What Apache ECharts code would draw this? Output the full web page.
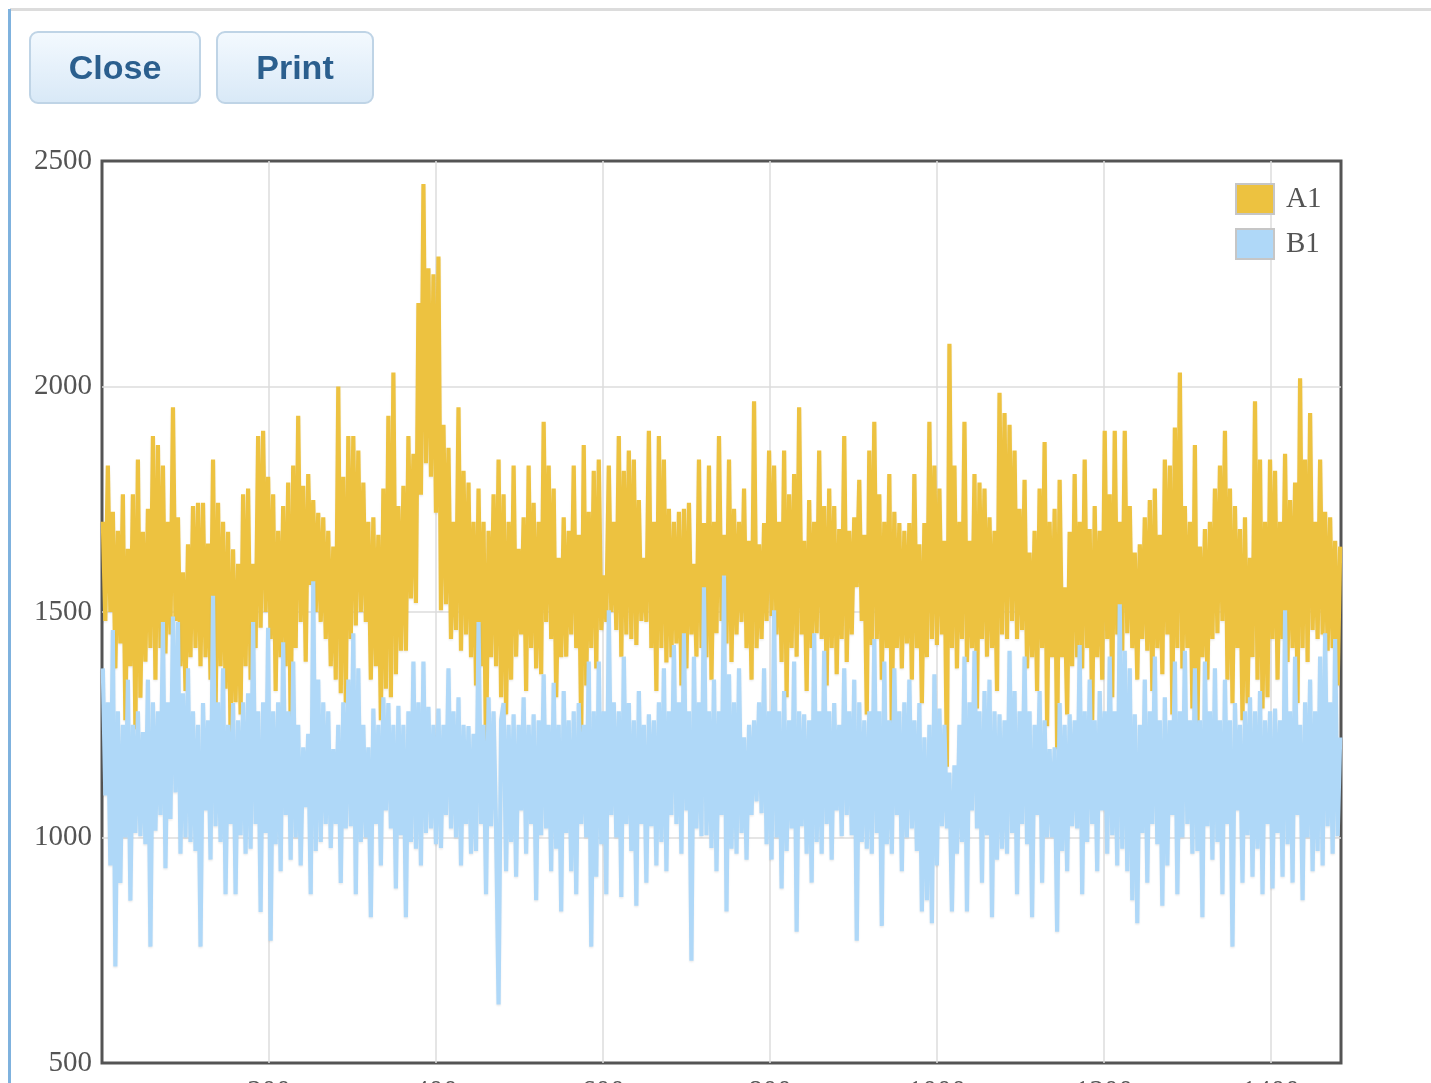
<!DOCTYPE html>
<html>
<head>
<meta charset="utf-8">
<title>A1 / B1</title>
<script src="https://cdn.jsdelivr.net/npm/echarts@6/dist/echarts.min.js"></script>
<style>
  html, body { margin: 0; padding: 0; background: #fff; width: 1431px; height: 1083px; overflow: hidden; }
  .frame-top { position: absolute; left: 10px; top: 8px; width: 1421px; height: 3px; background: #dcdcdc; }
  .frame-left { position: absolute; left: 8px; top: 9px; width: 3px; height: 1080px; background: #7fb2de; }
  .btn {
    position: absolute; top: 31px; height: 73px; box-sizing: border-box; z-index: 2;
    border: 2px solid #bfd4e6; border-radius: 9px;
    background: linear-gradient(#f3f9fe, #e6f1fb 50%, #d9e9f7);
    color: #2b5f8e; font: bold 34px "Liberation Sans", Arial, sans-serif;
    display: flex; align-items: center; justify-content: center;
  }
  #chart { position: absolute; left: 0; top: 0; width: 1431px; height: 1110px; }
</style>
</head>
<body>
<div class="frame-top"></div>
<div class="frame-left"></div>
<div class="btn" style="left:29px;width:172px;">Close</div>
<div class="btn" style="left:216px;width:158px;">Print</div>
<div id="chart"></div>
<script>
// Sample positions: first x and spacing between samples
const xStart = 1;
const xStep = 3;

// Series A1 values
const seriesA1 = [
  1700,1480,1825,1500,1722,1375,1680,1430,1761,1260,
  1640,1380,1761,1240,1838,1310,1678,1390,1729,1420,
  1890,1350,1870,1420,1825,1408,1700,1450,1954,1480,
  1710,1380,1588,1325,1650,1400,1735,1420,1742,1380,
  1742,1400,1652,1350,1838,1273,1742,1380,1700,1330,
  1678,1222,1639,1300,1607,1273,1761,1380,1774,1350,
  1607,1420,1890,1465,1902,1500,1800,1440,1761,1325,
  1680,1400,1735,1380,1787,1240,1825,1420,1935,1478,
  1780,1390,1806,1560,1748,1500,1720,1478,1710,1440,
  1680,1380,1645,1350,2000,1320,1800,1298,1890,1440,
  1890,1470,1858,1500,1787,1478,1700,1350,1710,1380,
  1671,1260,1774,1330,1935,1311,2031,1362,1735,1414,
  1780,1414,1890,1530,1851,1520,2185,1760,2449,1830,
  2262,1800,2249,1720,2288,1504,1915,1517,1864,1440,
  1700,1460,1954,1414,1813,1450,1787,1400,1700,1337,
  1774,1380,1700,1170,1680,1400,1761,1380,1838,1311,
  1761,1273,1700,1350,1825,1401,1640,1450,1710,1325,
  1825,1420,1742,1375,1700,1362,1922,1478,1825,1440,
  1774,1311,1620,1400,1710,1401,1680,1450,1825,1420,
  1671,1234,1870,1337,1722,1420,1813,1375,1838,1460,
  1581,1478,1825,1500,1700,1460,1890,1401,1813,1450,
  1858,1440,1838,1427,1748,1480,1620,1478,1902,1420,
  1700,1325,1890,1420,1838,1388,1729,1400,1700,1430,
  1722,1337,1729,1375,1742,1450,1607,1401,1838,1420,
  1697,1400,1825,1350,1700,1453,1890,1480,1671,1430,
  1838,1389,1729,1450,1700,1478,1774,1420,1658,1350,
  1967,1420,1650,1440,1697,1480,1858,1491,1825,1450,
  1700,1389,1858,1311,1761,1420,1806,1401,1954,1450,
  1658,1325,1748,1420,1700,1453,1858,1440,1735,1337,
  1774,1420,1735,1362,1684,1440,1890,1389,1680,1450,
  1710,1555,1793,1480,1671,1273,1858,1427,1922,1440,
  1761,1350,1700,1420,1806,1234,1722,1420,1697,1375,
  1680,1430,1697,1350,1806,1420,1650,1298,1697,1400,
  1922,1440,1825,1427,1774,1450,1658,1157,2095,1420,
  1825,1375,1700,1440,1922,1389,1658,1420,1806,1286,
  1787,1440,1774,1401,1710,1420,1680,1325,1986,1450,
  1941,1440,1915,1480,1858,1440,1729,1460,1793,1375,
  1632,1400,1680,1325,1774,1420,1877,1247,1700,1400,
  1729,1196,1793,1400,1555,1273,1678,1380,1806,1400,
  1700,1375,1838,1420,1684,1260,1735,1400,1680,1350,
  1902,1440,1761,1311,1902,1450,1700,1414,1902,1453,
  1735,1420,1632,1350,1650,1440,1710,1414,1748,1325,
  1774,1420,1671,1362,1838,1450,1825,1273,1909,1420,
  2031,1375,1735,1420,1700,1286,1870,1234,1645,1400,
  1684,1350,1700,1440,1774,1453,1825,1480,1902,1350,
  1774,1298,1735,1420,1684,1260,1710,1298,1620,1400,
  1967,1350,1838,1286,1700,1311,1838,1440,1813,1350,
  1700,1440,1851,1389,1748,1420,1787,1298,2018,1420,
  1838,1389,1941,1460,1700,1440,1838,1450,1722,1414,
  1710,1420,1658,1337,1645
];

// Series B1 values
const seriesB1 = [
  1375,1093,1300,938,1460,714,1280,899,1250,1000,
  1350,860,1250,1010,1280,1003,1234,985,1350,758,
  1300,1015,1280,1050,1478,932,1300,1041,1490,1100,
  1478,964,1320,1000,1375,990,1280,970,1250,758,
  1298,1060,1260,951,1536,1025,1300,990,1375,874,
  1250,1030,1298,874,1260,1005,1300,964,1320,975,
  1478,1030,1280,835,1300,1010,1465,771,1280,985,
  1300,925,1433,1050,1280,951,1390,1000,1250,938,
  1200,1067,1230,874,1568,970,1350,990,1300,1030,
  1280,977,1196,1030,1250,899,1300,1020,1350,1025,
  1453,874,1375,990,1250,1000,1200,823,1286,1030,
  1250,938,1311,1060,1298,1020,1250,887,1292,1005,
  1250,823,1280,990,1390,975,1300,938,1390,1010,
  1290,1020,1250,985,1286,977,1250,1050,1375,1020,
  1280,1000,1311,938,1250,1030,1247,964,1230,970,
  1478,1030,1250,874,1311,1025,1280,1020,630,1260,
  1298,925,1250,990,1273,913,1250,1060,1311,964,
  1250,1030,1273,861,1260,1005,1362,1020,1250,925,
  1343,975,1250,836,1325,1010,1260,925,1280,874,
  1298,1030,1250,1000,1390,758,1280,913,1390,985,
  1280,874,1504,1050,1300,1000,1280,868,1401,1030,
  1298,970,1260,849,1325,1030,1250,900,1273,1025,
  1260,938,1300,990,1375,925,1280,1050,1427,1030,
  1300,964,1453,1060,1280,727,1401,1020,1300,1003,
  1555,1005,1280,977,1350,925,1280,1050,1581,836,
  1362,975,1300,964,1375,1010,1222,951,1250,1050,
  1260,1080,1300,1054,1375,985,1280,951,1504,1000,
  1280,887,1325,970,1260,1020,1390,791,1280,1025,
  1273,964,1260,900,1453,990,1280,964,1414,1030,
  1280,951,1298,1060,1250,1003,1375,1050,1280,1005,
  1350,771,1300,990,1260,975,1280,964,1440,1010,
  1280,804,1390,985,1260,964,1375,1050,1280,925,
  1300,1000,1350,1020,1260,970,1298,836,1222,861,
  1250,810,1362,938,1286,1025,1250,1020,1144,836,
  1160,964,1250,990,1401,836,1300,1060,1414,1020,
  1280,900,1325,1005,1350,823,1280,951,1273,975,
  1260,964,1414,1010,1325,874,1280,1030,1401,985,
  1280,823,1250,1050,1325,900,1260,1000,1196,1000,
  1200,791,1298,970,1250,925,1273,1025,1260,1020,
  1427,874,1280,990,1350,1030,1260,925,1325,1060,
  1280,964,1401,1005,1280,938,1517,975,1414,925,
  1375,861,1273,810,1250,1010,1350,900,1280,1030,
  1401,985,1260,849,1311,938,1260,1050,1390,874,
  1280,1000,1414,1030,1260,964,1375,970,1260,823,
  1390,1025,1280,951,1375,990,1260,874,1350,1030,
  1260,758,1298,1060,1250,900,1280,1005,1311,913,
  1280,975,1325,874,1260,1030,1280,887,1286,1010,
  1260,913,1504,985,1280,900,1401,1050,1250,861,
  1300,1000,1350,925,1280,970,1401,938,1453,1025,
  1300,964,1440,1003,1222
];

const seriesNames = ['A1', 'B1'];
const seriesColors = ['#edc240', '#afd8f8'];

// Axis ranges and tick steps
const xRange = [0, 1484];
const xTickStep = 200;
const yRange = [500, 2500];
const yTickStep = 500;

function toPairs(values) {
  return values.map((v, i) => [xStart + i * xStep, v]);
}

const serifFont = '"Liberation Serif", "Times New Roman", "DejaVu Serif", serif';
const labelColor = '#545454';
const gridLineColor = '#dcdcdc';
const plainNumber = v => String(v);

const chart = echarts.init(document.getElementById('chart'), null, { renderer: 'canvas' });

const lineSeries = [seriesA1, seriesB1].map((vals, k) => ({
  name: seriesNames[k],
  type: 'line',
  data: toPairs(vals),
  showSymbol: false,
  symbol: 'none',
  silent: true,
  clip: true,
  z: 2 + k,
  lineStyle: {
    color: seriesColors[k],
    width: 4.2,
    shadowColor: 'rgba(0,0,0,0.08)',
    shadowBlur: 2,
    shadowOffsetY: 1.5
  },
  itemStyle: { color: seriesColors[k] }
}));

chart.setOption({
  animation: false,
  color: seriesColors,
  textStyle: { fontFamily: serifFont },
  grid: {
    left: 102, right: 90, top: 161, bottom: 47,
    show: true, borderColor: '#545454', borderWidth: 3,
    backgroundColor: 'rgba(0,0,0,0)'
  },
  legend: {
    orient: 'vertical',
    left: 1235, top: 183,
    padding: 0,
    itemWidth: 38, itemHeight: 30, itemGap: 13,
    icon: 'rect',
    selectedMode: false,
    data: seriesNames,
    lineStyle: { opacity: 0 },
    itemStyle: { borderColor: '#c6c6c6', borderWidth: 2 },
    textStyle: { fontFamily: serifFont, fontSize: 29, color: labelColor, padding: [0, 0, 0, 7] }
  },
  xAxis: {
    type: 'value',
    min: xRange[0], max: xRange[1], interval: xTickStep,
    axisLine: { show: false },
    axisTick: { show: false },
    splitLine: { show: true, showMinLine: false, showMaxLine: false, lineStyle: { color: gridLineColor, width: 1.5 } },
    axisLabel: { color: labelColor, fontSize: 29, fontFamily: serifFont, margin: 15, showMinLabel: false, showMaxLabel: false, formatter: plainNumber }
  },
  yAxis: {
    type: 'value',
    min: yRange[0], max: yRange[1], interval: yTickStep,
    axisLine: { show: false },
    axisTick: { show: false },
    splitLine: { show: true, showMinLine: false, showMaxLine: false, lineStyle: { color: gridLineColor, width: 1.5 } },
    axisLabel: { color: labelColor, fontSize: 29, fontFamily: serifFont, margin: 10, formatter: plainNumber }
  },
  series: lineSeries
});
</script>
</body>
</html>
